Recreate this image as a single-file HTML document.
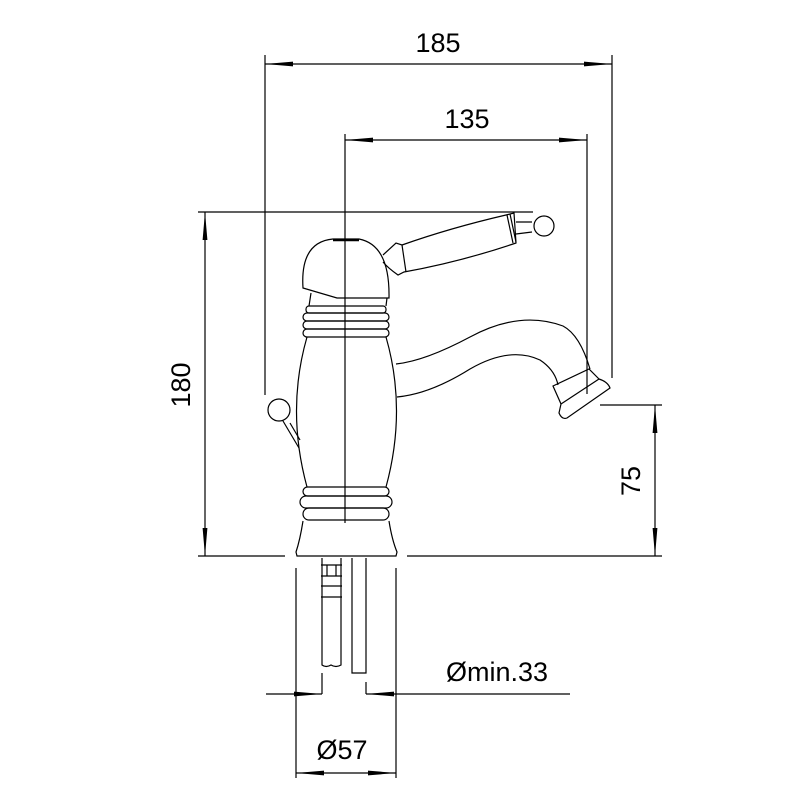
<!DOCTYPE html>
<html><head><meta charset="utf-8"><style>html,body{margin:0;padding:0;background:#fff}</style></head>
<body>
<svg width="800" height="800" viewBox="0 0 800 800" xmlns="http://www.w3.org/2000/svg">
<defs>
<marker id="a" viewBox="0 0 10 10" refX="10" refY="5" markerWidth="28" markerHeight="8" markerUnits="userSpaceOnUse" orient="auto-start-reverse" preserveAspectRatio="none"><path d="M0,2 L10,5 L0,8 Z" fill="#000"/></marker>
</defs>
<g fill="none" stroke="#000" stroke-width="1.2">
<line x1="265" y1="55" x2="265" y2="395"/>
<line x1="612" y1="55" x2="612" y2="378"/>
<line x1="265" y1="64" x2="612" y2="64" marker-start="url(#a)" marker-end="url(#a)"/>
<line x1="345" y1="134" x2="345" y2="523"/>
<line x1="587" y1="134" x2="587" y2="394"/>
<line x1="345" y1="140" x2="587" y2="140" marker-start="url(#a)" marker-end="url(#a)"/>
<line x1="198" y1="212" x2="533" y2="212"/>
<line x1="198" y1="556" x2="285" y2="556"/>
<line x1="407" y1="556" x2="662" y2="556"/>
<line x1="205" y1="212" x2="205" y2="556" marker-start="url(#a)" marker-end="url(#a)"/>
<line x1="600" y1="405" x2="662" y2="405"/>
<line x1="655" y1="405" x2="655" y2="556" marker-start="url(#a)" marker-end="url(#a)"/>
<line x1="296" y1="568" x2="296" y2="778"/>
<line x1="396" y1="568" x2="396" y2="778"/>
<line x1="296" y1="773" x2="396" y2="773" marker-start="url(#a)" marker-end="url(#a)"/>
<line x1="322" y1="673" x2="322" y2="694"/>
<line x1="366" y1="682" x2="366" y2="694"/>
<line x1="266" y1="694" x2="322" y2="694" marker-end="url(#a)"/>
<line x1="570" y1="694" x2="366" y2="694" marker-end="url(#a)"/>
<path d="M322,558 V665 Q326,668 331,665 Q336,668 341,665 V558"/>
<path d="M321,565 H342 M321,576 H342 M321,586 H342 M321,597 H342"/>
<path d="M327,565 V576 M336,565 V576"/>
<path d="M352,558 V673 H366 V558"/>
<path d="M303,521 Q300,540 296,552 L297,556 H396 L397,552 Q392,540 389,521"/>
<rect x="303" y="487" width="86" height="9" rx="4.5"/>
<rect x="300" y="496" width="92" height="12" rx="6"/>
<rect x="303" y="508" width="86" height="12" rx="6"/>
<path d="M307,337 Q286,410 307,487"/>
<path d="M386,337 Q407,410 386,487"/>
<rect x="306" y="306" width="80" height="7" rx="3"/>
<rect x="303" y="313" width="86" height="8" rx="4"/>
<rect x="303" y="321" width="86" height="8" rx="4"/>
<rect x="303" y="329" width="86" height="8" rx="4"/>
<path d="M309,306 L311,293 M386,306 L387,298"/>
<path d="M303,288 Q300,242 333,239 H359 Q390,245 389,298 H337 L303,288 Z"/>
<line x1="333" y1="240" x2="359" y2="240" stroke-width="2.5"/>
<path d="M383,255 L396,243 L402,245 Q450,228 506,215 L514,213 L516,243 Q460,262 404,272 L398,275 Q388,268 383,262"/>
<path d="M402,245 L406,272"/>
<path d="M507,215 L513,243 M510,214 L516,242"/>
<path d="M516,222 L532,222 M516,234 L532,232"/>
<circle cx="544" cy="226" r="10"/>
<circle cx="279" cy="410" r="11"/>
<path d="M283,421 L299,448 M290,423 L300,440"/>
<path d="M396,364 Q425,361 470,337 Q520,310 563,326 Q580,335 590,369"/>
<path d="M397,397 Q430,394 470,369 Q510,346 540,360 Q555,370 558,385"/>
<path d="M553,386 L589,369 L599,379 Q608,382 610,388 L567,418 Q562,420 559,413 L561,404 Z"/>
<path d="M561,404 L599,379"/>
</g>
<g font-family="Liberation Sans, Arial, sans-serif" font-size="27" fill="#000" text-anchor="middle">
<text x="438" y="52">185</text>
<text x="467" y="128">135</text>
<text transform="translate(190,385) rotate(-90)">180</text>
<text transform="translate(640,481) rotate(-90)">75</text>
<text x="497" y="681">Ømin.33</text>
<text x="342" y="759">Ø57</text>
</g>
</svg>
</body></html>
